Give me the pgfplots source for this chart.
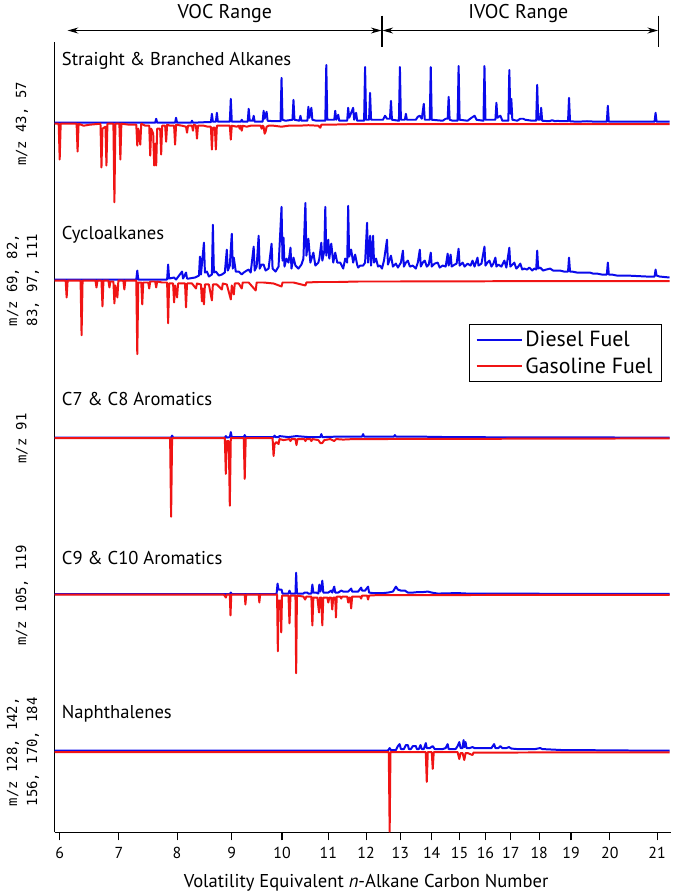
\documentclass[border=0pt]{standalone}
\usepackage{pgfplots}
\pgfplotsset{compat=1.18}
\usepackage{fontspec}
\setmainfont{PT Sans}
\newfontfamily\monof{DejaVu Sans Mono}
\usetikzlibrary{arrows.meta}
\definecolor{dblue}{RGB}{10,10,235}
\definecolor{gred}{RGB}{240,20,20}
\tikzset{
  lab/.style={anchor=west, inner sep=0pt, font=\fontsize{14}{16}\selectfont},
  mz/.style={rotate=90, align=center, font=\monof\fontsize{10.5}{15}\selectfont},
}
\begin{document}
\begin{tikzpicture}
\begin{axis}[
  x=0.75pt, y=0.75pt,
  xmin=55, xmax=674, ymin=62, ymax=856,
  axis x line*=bottom, axis y line*=left,
  axis line style={-, line width=0.8pt, black},
  xtick={60,119.5,178,233,283.5,330,368,402.5,434,462,488,513.5,542,574,613,660.5},
  xticklabels={6,7,8,9,10,11,12,13,14,15,16,17,18,19,20,21},
  ytick=\empty,
  tick align=outside, major tick length=6pt,
  tick style={black, line width=0.8pt},
  /pgf/number format/assume math mode=true,
  xticklabel style={font=\fontsize{12}{14}\selectfont, inner sep=2pt, yshift=-3pt},
  clip=false,
  legend style={at={(0.672,0.644)}, anchor=north west, draw=black, line width=0.8pt,
    font=\fontsize{16.5}{19}\selectfont, inner xsep=5pt, inner ysep=3pt, row sep=3pt},
  legend cell align=left,
  legend image code/.code={\draw[#1,line width=1.5pt] (0pt,0pt) -- (34pt,0pt);},
  dat/.style={line width=1.5pt, line join=round},
  p1/.style={y filter/.expression={y+774.3}},
  p2/.style={y filter/.expression={y+616.7}},
  p3/.style={y filter/.expression={y+458.3}},
  p4/.style={y filter/.expression={y+301}},
  p5/.style={y filter/.expression={y+142.7}},
]
% ---------------- Panel 1 ----------------
\addplot[dat, dblue, p1] coordinates {
(55,1) (156,1) (157,5) (158,1) (176,1) (177,6) (178,1) (192,1) (193,3) (194,1) (205,1.5) (212,1.5) (213,10) (214,2) (217,2) (218,11) (219,2) (231,2) (232,25) (233,2) (242,2) (243,4) (244,2) (249,2) (250,15) (251,3) (254,3) (255,8) (256,2) (264,2) (265,13) (266,5) (268,12) (269,3) (276,2.5) (282,2.5) (283,46) (284,4) (287,3) (294,4) (295,24) (296,4) (301,3) (302,8) (303,3) (309,3) (310,17) (311,6) (313,16) (314,4) (318,3) (327,3) (328,59) (329,4) (336,4) (337,13) (338,4) (340,9) (341,3) (349,3) (350,16) (351,6) (355,16) (356,4) (358,11) (359,3) (366,3) (367,57) (368,4) (371,4) (372,31) (373,4) (380,4) (385,4) (387,8) (389,5) (392,5) (393,23) (394,4) (401,3) (402,57) (403,4) (407,4) (408,10) (409,4) (418,4) (420,7) (422,8) (424,5) (426,20) (427,4) (432,4) (433,57) (434,4) (445,3) (448,5) (450,5) (451,27) (452,4) (455,3) (460,3) (461,58) (462,4) (470,3) (474,6) (477,8) (479,4) (486,3) (487,58) (488,4) (498,4) (499,21) (500,6) (503,8) (505,3) (511,3) (512,54) (513,10) (514,25) (515,4) (520,3) (523,5) (526,5) (528,4) (535,3) (539,3) (540,39) (541,4) (543,4) (544,16) (545,3) (552,2.5) (555,3.5) (558,2.5) (561,3) (563,2.5) (571,2.5) (572,26) (573,2.5) (580,2) (590,2.5) (600,2) (610,2) (611,18) (612,2) (620,2) (640,2) (650,2) (658,2) (659,11) (660,2) (673,2)
};
\addlegendentry{Diesel Fuel}
\addplot[dat, gred, p1] coordinates {
(55,0) (59,0) (60,-36) (61,0) (77,0) (78,-28) (79,0) (84,-2) (90,-1) (101,0) (102,-44) (103,-5) (106,-3) (107,-42) (108,0) (114,0) (115,-79) (116,0) (120,0) (121,-36) (122,0) (130,-1) (137,-1) (138,-22) (139,-5) (141,-21) (142,0) (146,-2) (150,-2) (151,-32) (152,-5) (154,-10) (155,-42) (156,-20) (157,-42) (158,-5) (161,-5) (162,-31) (163,-2) (166,-2) (167,-18) (168,-1) (171,-2) (175,-2) (176,-21) (177,-1) (183,-2) (187,-3) (188,-9) (189,-2) (193,-2) (194,-7) (195,-1) (197,-2) (198,-15) (199,-2) (205,-2) (209,-3) (212,-3) (213,-26) (214,-4) (216,-4) (217,-26) (218,-2) (225,-2) (231,-2) (232,-16) (233,-2) (238,-3) (240,-2) (241,-5) (242,-2) (243,-7) (244,-2) (248,-3) (252,-2) (258,-2) (262,-2) (263,-5) (264,-2) (265,-3) (266,-10) (267,-8) (268,-3) (270,-2) (275,-2) (283,-3) (290,-2) (300,-2) (310,-1.5) (320,-2) (322,-4) (323,-1) (330,-1) (350,-0.5) (673,-0.5)
};
\addlegendentry{Gasoline Fuel}
% ---------------- Panel 2 ----------------
\addplot[dat, dblue, p2, forget plot] coordinates {
(55,1) (137,1) (138,10) (139,1) (168,1) (169,16) (170,2) (175,3) (177,1) (183,9) (184,2) (187,8) (188,2) (190,2) (196,3) (200,5) (201,24) (202,6) (205,38) (206,8) (208,9) (210,4) (213,6) (214,56) (215,8) (217,9) (220,5) (223,6) (226,8) (228,31) (229,10) (231,15) (233,47) (234,12) (235,23) (237,9) (240,9) (243,6) (245,8) (248,10) (250,11) (252,8) (255,34) (256,10) (258,14) (260,45) (261,12) (263,16) (265,16) (267,10) (270,12) (273,37) (274,12) (277,9) (280,14) (283,74) (284,20) (285,43) (286,14) (288,22) (290,18) (292,33) (293,12) (295,23) (297,15) (298,14) (300,12) (303,16) (305,22) (307,78) (308,25) (310,42) (312,18) (315,28) (317,15) (320,18) (321,22) (323,38) (324,20) (326,30) (327,74) (328,25) (330,41) (331,22) (333,37) (335,18) (337,28) (339,18) (342,18) (344,14) (345,12) (347,22) (349,18) (350,75) (351,24) (353,31) (355,18) (357,26) (359,16) (360,13) (362,15) (365,15) (367,18) (369,58) (370,18) (372,45) (373,15) (375,45) (376,18) (378,22) (380,14) (382,15) (384,12) (386,20) (389,41) (390,16) (393,25) (395,14) (398,17) (400,13) (403,18) (405,30) (406,14) (408,18) (410,20) (412,14) (415,15) (418,12) (420,18) (422,31) (423,14) (425,18) (427,20) (429,14) (431,16) (433,28) (434,14) (437,17) (440,18) (442,13) (445,15) (448,14) (450,27) (451,15) (453,26) (454,14) (457,16) (459,17) (461,32) (462,15) (465,18) (467,14) (470,17) (473,15) (475,20) (477,14) (480,23) (481,15) (484,17) (487,34) (488,15) (490,18) (492,20) (494,14) (496,17) (498,23) (499,14) (501,16) (504,14) (507,20) (509,13) (512,33) (513,14) (515,16) (517,18) (519,12) (521,14) (523,17) (525,11) (527,12) (530,11) (532,13) (535,10) (537,12) (539,11) (540,30) (541,12) (543,13) (546,10) (549,11) (553,12) (556,10) (560,10) (563,10) (567,9) (571,9) (572,23) (573,9) (575,9) (580,8) (585,8) (590,8) (593,8) (596,7) (600,7) (605,6) (610,6) (611,18) (612,6) (615,6) (620,5) (630,5) (640,4.5) (650,4) (655,4) (658,4) (659,11) (660,5) (663,4) (673,3)
};
\addplot[dat, gred, p2, forget plot] coordinates {
(55,0) (66,0) (67,-17) (68,0) (81,0) (82,-55) (83,0) (96,0) (97,-7) (98,0) (102,0) (103,-26) (104,0) (109,0) (110,-7) (111,-1) (114,-1) (115,-23) (116,-5) (118,-17) (119,0) (124,0) (125,-9) (126,0) (137,0) (138,-74) (139,-2) (142,-2) (143,-24) (144,-2) (149,-2) (150,-8) (151,-1) (156,-1) (157,-7) (158,-1) (163,-2) (168,-2) (169,-43) (170,-3) (174,-3) (175,-22) (176,-5) (178,-17) (179,-3) (183,-3) (186,-3) (187,-27) (188,-3) (193,-3) (197,-8) (198,-3) (202,-4) (203,-21) (204,-8) (205,-24) (206,-4) (210,-4) (213,-20) (214,-4) (218,-4) (223,-9) (224,-3) (228,-4) (232,-19) (233,-5) (235,-14) (236,-3) (240,-3) (243,-8) (244,-2) (250,-2) (257,-10) (258,-2) (265,-2) (275,-3) (283,-6) (284,-2) (295,-2) (307,-5) (308,-2) (320,-1.5) (340,-1.5) (360,-1) (400,-1) (450,-0.8) (673,-0.5)
};
% ---------------- Panel 3 ----------------
\addplot[dat, dblue, p3, forget plot] coordinates {
(55,0.5) (172,0.5) (173,2.5) (174,0.5) (226,0.5) (227,2) (228,0.5) (231,1) (232,6) (233,1) (245,1) (246,3) (247,1) (275,1) (276,2.5) (277,1) (280,1) (281,2) (290,1) (298,2) (310,1) (322,1) (323,4) (324,1) (340,1.5) (350,1.5) (364,1.5) (365,4) (366,1.5) (380,1.5) (396,1.5) (397,3) (398,1.5) (420,1.5) (450,1) (500,0.8) (673,0.5)
};
\addplot[dat, gred, p3, forget plot] coordinates {
(55,0) (171,0) (172,-79) (173,0) (226,0) (227,-36) (228,-3) (230,-3) (231,-68) (232,0) (245,0) (246,-41) (247,0) (274,0) (275,-18) (276,-6) (278,-4) (280,-6) (281,-1) (285,-2) (291,-1) (292,-3) (293,-1) (297,-1) (298,-7) (299,-1) (306,-1) (307,-3) (308,-1) (312,-1) (313,-3) (314,-1) (320,-2) (322,-5) (324,-5) (326,-2) (332,-1) (336,-3) (338,-1) (345,-1.5) (355,-1) (673,-0.3)
};
% ---------------- Panel 4 ----------------
\addplot[dat, dblue, p4, forget plot] coordinates {
(55,0.5) (231,0.5) (232,2) (233,0.5) (278,0.5) (279,11) (280,5) (282,5) (283,5) (284,1) (290,1) (291,4) (292,1) (297,1) (297.7,22) (298.5,1) (305,1) (306,2) (309,2) (310,1) (313,1) (314,10) (315,2) (318,2) (320,1) (321,10) (322,3) (323,6) (324,14) (325,2) (330,2) (333,4) (334,2) (336,8) (337,2) (340,2) (343,4) (345,3) (350,3) (353,6) (354,3) (357,3) (360,3) (363,7) (364,4) (367,4) (370,8) (371,2) (375,1.5) (380,1.5) (385,1.5) (390,2) (395,3) (398,8) (400,5) (403,4) (407,4) (410,2) (415,2) (420,2.5) (425,2.5) (430,3) (434,2) (440,1) (460,1.5) (470,1) (500,1) (550,0.8) (673,0.6)
};
\addplot[dat, gred, p4, forget plot] coordinates {
(55,0) (225,0) (227,-3) (228,0) (231,0) (231.7,-21) (232.5,0) (246,0) (246.7,-10) (247.5,0) (260,0) (260.7,-8) (261.5,0) (278.5,0) (279.3,-57) (280,-6) (282,-6) (282.7,-38) (283.5,-1) (290,-1) (291,-29) (292,-1) (297,-1) (297.7,-79) (298.5,-1) (305,-2) (306.7,-5) (308,-2) (313,-2) (314,-31) (315,-3) (319,-3) (320.7,-18) (321.5,-3) (323,-3) (324,-31) (325,-3) (329,-3) (330,-8) (331,-3) (333,-3) (334,-15) (335,-3) (337,-3) (337.7,-23) (338.5,-2) (342,-2) (343,-4) (344,-2) (349,-2) (350,-8) (351,-3) (352,-3) (353,-14) (354,-2) (362,-2) (363,-4) (364,-1) (369,-1) (370,-5) (371,-1) (380,-0.5) (673,-0.3)
};
% ---------------- Panel 5 ----------------
\addplot[dat, dblue, p5, forget plot] coordinates {
(55,1.5) (390,1.5) (391.7,4) (393,2) (398,2) (400,6) (401.7,8) (403,3) (406,3) (408,7) (410,7) (411,3) (413,3) (415,6) (418,6) (419,3) (421,3) (422.7,7) (424,3) (426,3) (428,9) (429,4) (432,4) (435,6) (437,3) (440,3) (445,3) (448,4) (450,8) (451,3) (455,3) (458,3) (460,6) (461.7,10) (463,4) (465,4) (466,12) (467,5) (468,10) (469,4) (472,4) (475,5) (477,4) (485,4) (490,4) (494,4) (496.7,8) (498,4) (501,4) (503,6) (505,4) (509,4) (511.7,5) (514,3.5) (520,3) (530,3) (538,3) (543,4) (545,3) (555,2.5) (565,2) (580,2) (600,1.8) (640,1.5) (673,1.5)
};
\addplot[dat, gred, p5, forget plot] coordinates {
(55,0) (390.8,0) (391.7,-80) (392.5,0) (428,0) (429,-30) (430,0) (434,0) (435,-17) (436,0) (460,0) (461.7,-7) (463,-1) (465,-1) (466.7,-8) (468,-1) (470,-1) (475,-3) (476,-0.5) (480,-0.5) (673,-0.3)
};
% ---------------- annotations ----------------
\path (axis cs:0,0) rectangle (axis cs:680,896);
\node[lab] at (axis cs:62,838) {Straight \& Branched Alkanes};
\node[lab] at (axis cs:62,663) {Cycloalkanes};
\node[lab] at (axis cs:62,498) {C7 \& C8 Aromatics};
\node[lab] at (axis cs:62,338) {C9 \& C10 Aromatics};
\node[lab] at (axis cs:62,181) {Naphthalenes};
\node[mz] at (axis cs:22,774) {m/z 43, 57};
\node[mz] at (axis cs:23,617) {m/z 69, 82,\\83, 97, 111};
\node[mz] at (axis cs:22,458) {m/z 91};
\node[mz] at (axis cs:22,300) {m/z 105, 119};
\node[mz] at (axis cs:23,143) {m/z 128, 142,\\156, 170, 184};
\node[font=\fontsize{14}{16}\selectfont] at (axis cs:368,11) {Volatility Equivalent \textit{n}-Alkane Carbon Number};
\node[font=\fontsize{15}{17}\selectfont] at (axis cs:226,885) {VOC Range};
\node[font=\fontsize{15}{17}\selectfont] at (axis cs:521,885) {IVOC Range};
\draw[line width=0.8pt, {Stealth[length=8pt,width=4.5pt]}-{Stealth[length=8pt,width=4.5pt]}] (axis cs:68,868) -- (axis cs:383.5,868);
\draw[line width=0.8pt, {Stealth[length=8pt,width=4.5pt]}-{Stealth[length=8pt,width=4.5pt]}] (axis cs:384.5,868) -- (axis cs:661.5,868);
\draw[line width=0.8pt] (axis cs:384,883) -- (axis cs:384,851);
\draw[line width=0.8pt] (axis cs:662,883) -- (axis cs:662,851);
\end{axis}
\end{tikzpicture}
\end{document}
